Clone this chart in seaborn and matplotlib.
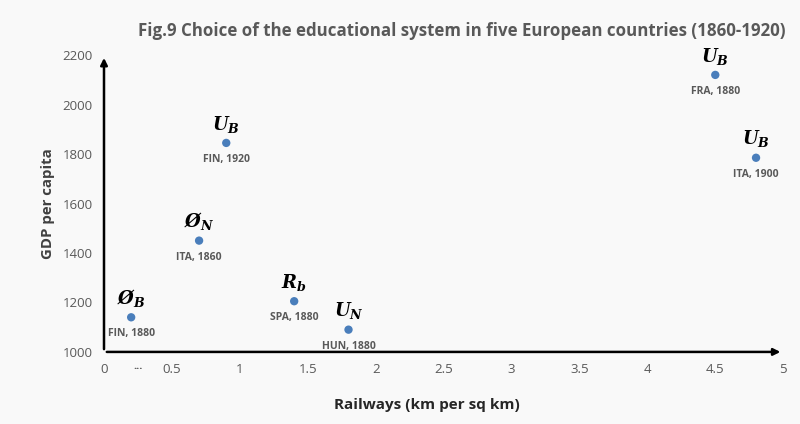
import matplotlib.pyplot as plt
import seaborn as sns
import pandas as pd

# data
countries = ['FIN, 1880', 'ITA, 1860', 'FIN, 1920', 'SPA, 1880', 'HUN, 1880', 'FRA, 1880', 'ITA, 1900']
railways = [0.2, 0.7, 0.9, 1.4, 1.8, 4.5, 4.8]
gdp = [1140, 1450, 1845, 1205, 1090, 2120, 1785]
systems = [r'$\mathbf{\O_B}$', r'$\mathbf{\O_N}$', r'$\mathbf{U_B}$', r'$\mathbf{R_b}$',
           r'$\mathbf{U_N}$', r'$\mathbf{U_B}$', r'$\mathbf{U_B}$']
x_ticks = [0, 0.5, 1, 1.5, 2, 2.5, 3, 3.5, 4, 4.5, 5]
y_ticks = [1000, 1200, 1400, 1600, 1800, 2000, 2200]

df = pd.DataFrame({'Country': countries, 'Railways': railways, 'GDP': gdp, 'System': systems})

sns.set_style('white')
plt.rcParams['font.family'] = ['Open Sans', 'DejaVu Sans']
plt.rcParams['mathtext.fontset'] = 'custom'
plt.rcParams['mathtext.bf'] = 'DejaVu Serif:italic:bold'
plt.rcParams['mathtext.rm'] = 'DejaVu Serif:italic:bold'

bg = '#f9f9f9'
grey = '#595959'

fig = plt.figure(figsize=(8, 4.24), dpi=100, facecolor=bg)
ax = fig.add_axes([0.13, 0.17, 0.849, 0.70])
ax.set_facecolor(bg)

sns.scatterplot(x='Railways', y='GDP', data=df, ax=ax, color='#4a7ebb', s=36, edgecolor='none', zorder=3)

for _, r in df.iterrows():
    ax.annotate(r['Country'], (r['Railways'], r['GDP']), xytext=(0, -8), textcoords='offset points',
                ha='center', va='top', fontsize=7.5, fontweight='bold', color=grey)
    ax.annotate(r['System'], (r['Railways'], r['GDP']), xytext=(0, 6), textcoords='offset points',
                ha='center', va='bottom', fontsize=13, color='black')

ax.set_xlim(0, 5)
ax.set_ylim(1000, 2200)
ax.set_xticks(x_ticks)
ax.set_xticklabels([f'{t:g}' for t in x_ticks])
ax.set_yticks(y_ticks)
ax.tick_params(axis='both', length=0, labelsize=9.5, colors=grey, pad=8)
ax.text(0.25, -0.03, '...', transform=ax.get_xaxis_transform(), ha='center', va='top',
        fontsize=8, color=grey, fontweight='bold')

for s in ['top', 'right', 'left', 'bottom']:
    ax.spines[s].set_visible(False)
ax.annotate('', xy=(1.0, 0), xytext=(0, 0), xycoords='axes fraction',
            arrowprops=dict(arrowstyle='-|>', color='black', lw=1.8, mutation_scale=10))
ax.annotate('', xy=(0, 1.0), xytext=(0, 0), xycoords='axes fraction',
            arrowprops=dict(arrowstyle='-|>', color='black', lw=1.8, mutation_scale=10), annotation_clip=False)

ax.set_xlabel('Railways (km per sq km)', fontsize=11, fontweight='bold', color='#262626')
ax.xaxis.set_label_coords(0.475, -0.155)
ax.set_ylabel('GDP per capita', fontsize=10.8, fontweight='bold', color='#404040')
ax.yaxis.set_label_coords(-0.072, 0.5)
fig.text(0.577, 0.927, 'Fig.9 Choice of the educational system in five European countries (1860-1920)',
         ha='center', va='center', fontsize=12.2, fontweight='bold', color=grey)

fig.savefig('out.png', dpi=100, facecolor=bg)
